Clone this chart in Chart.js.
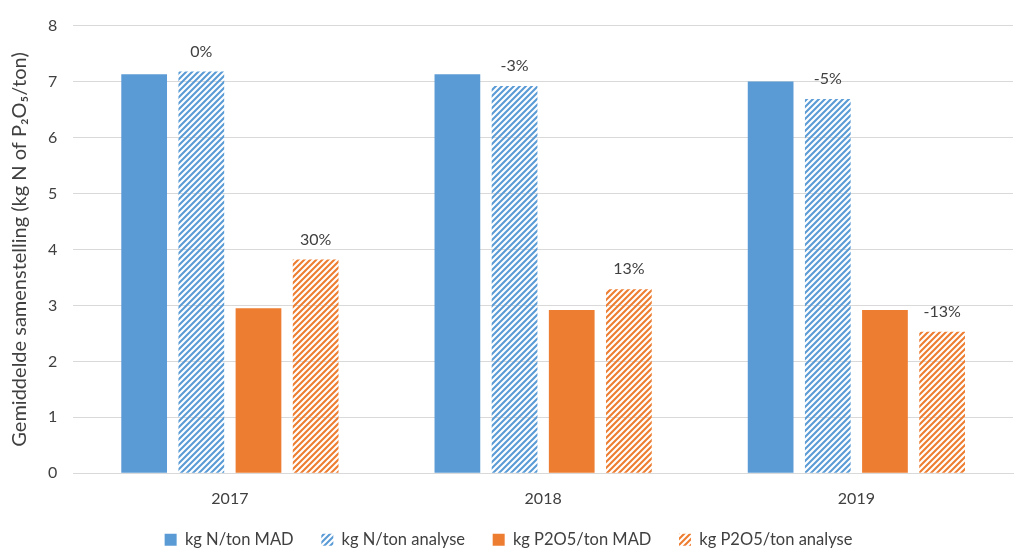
<!DOCTYPE html>
<html>
<head>
<meta charset="utf-8">
<script src="https://cdn.jsdelivr.net/npm/chart.js@4/dist/chart.umd.min.js"></script>
<style>
  html, body { margin: 0; padding: 0; background: #fff; }
  #wrap { width: 1014px; height: 548px; }
</style>
</head>
<body>
<div id="wrap"><canvas id="barChart"></canvas></div>
<script>
const years = ['2017', '2018', '2019'];
const nMad = [7.13, 7.13, 7.0];
const nAnalyse = [7.18, 6.92, 6.69];
const pMad = [2.95, 2.92, 2.92];
const pAnalyse = [3.82, 3.29, 2.53];
const nDiffLabels = ['0%', '-3%', '-5%'];
const pDiffLabels = ['30%', '13%', '-13%'];

const blue = '#5B9BD5';
const orange = '#ED7D31';
const fontFamily = 'Lato, "Open Sans", sans-serif';

let makeHatch = (color) => {
    const c = document.createElement('canvas');
    c.width = 6; c.height = 6;
    const g = c.getContext('2d');
    g.strokeStyle = color;
    g.lineWidth = 2.1;
    g.beginPath();
    g.moveTo(0, 6); g.lineTo(6, 0);
    g.moveTo(-3, 3); g.lineTo(3, -3);
    g.moveTo(3, 9); g.lineTo(9, 3);
    g.stroke();
    return g.createPattern(c, 'repeat');
};

// draws the percentage labels above the hatched bars
const diffLabels = {
    id: 'diffLabels',
    afterDatasetsDraw(chart) {
        const ctx = chart.ctx;
        ctx.save();
        ctx.font = '16px ' + fontFamily;
        ctx.fillStyle = '#404040';
        ctx.textAlign = 'center';
        ctx.textBaseline = 'bottom';
        [[1, nDiffLabels], [3, pDiffLabels]].forEach(([idx, labels]) => {
            chart.getDatasetMeta(idx).data.forEach((bar, i) => {
                ctx.fillText(labels[i], bar.x, bar.y - 12);
            });
        });
        ctx.restore();
    }
};

const tickFont = { family: fontFamily, size: 16 };

new Chart(document.getElementById('barChart'), {
    type: 'bar',
    data: {
        labels: years,
        datasets: [
            { label: 'kg N/ton MAD', data: nMad, backgroundColor: blue },
            { label: 'kg N/ton analyse', data: nAnalyse, backgroundColor: makeHatch(blue) },
            { label: 'kg P2O5/ton MAD', data: pMad, backgroundColor: orange },
            { label: 'kg P2O5/ton analyse', data: pAnalyse, backgroundColor: makeHatch(orange) }
        ]
    },
    options: {
        responsive: true,
        maintainAspectRatio: false,
        animation: false,
        categoryPercentage: 0.73,
        barPercentage: 0.8,
        layout: { padding: { top: -5, right: 1, left: 4, bottom: -10 } },
        plugins: {
            legend: {
                position: 'bottom',
                labels: {
                    boxWidth: 12,
                    boxHeight: 12,
                    padding: 15,
                    color: '#404040',
                    font: { family: fontFamily, size: 16.5 },
                    generateLabels(chart) {
                        const items = Chart.defaults.plugins.legend.labels.generateLabels(chart);
                        items.forEach((it, i) => {
                            if (i < items.length - 1) it.text += '   ';
                        });
                        return items;
                    }
                }
            },
            tooltip: { enabled: false }
        },
        scales: {
            x: {
                grid: { display: false },
                border: { color: '#d9d9d9' },
                ticks: { color: '#404040', font: tickFont, padding: 8 }
            },
            y: {
                min: 0,
                max: 8,
                ticks: { stepSize: 1, color: '#404040', font: tickFont, padding: 16 },
                grid: { color: '#d9d9d9', drawTicks: false },
                border: { display: false },
                title: {
                    display: true,
                    text: 'Gemiddelde samenstelling (kg N of P₂O₅/ton)',
                    color: '#404040',
                    font: { family: fontFamily, size: 20 },
                    padding: { bottom: 0 }
                }
            }
        }
    },
    plugins: [diffLabels]
});
</script>
</body>
</html>
